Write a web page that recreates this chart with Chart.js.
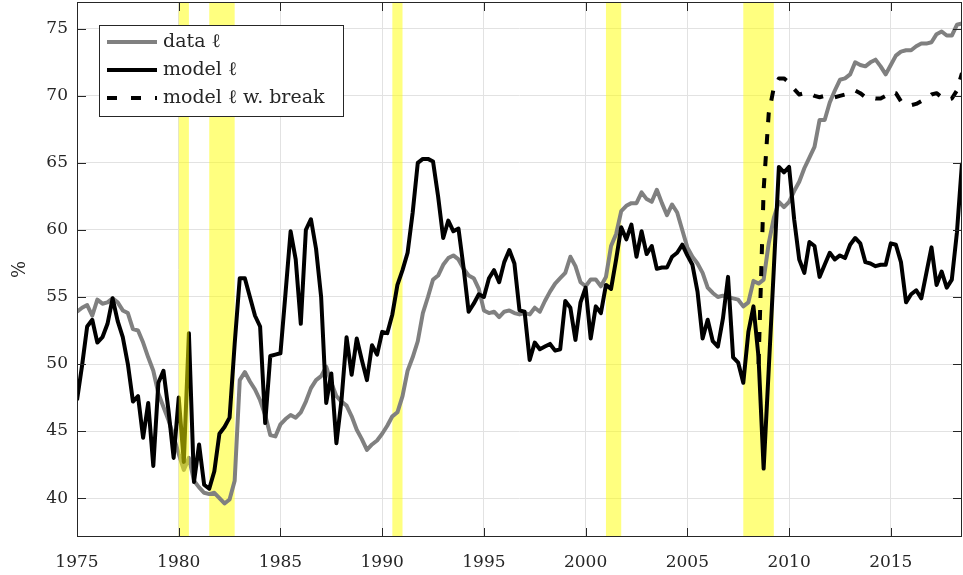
<!DOCTYPE html>
<html>
<head>
<meta charset="utf-8">
<script src="https://cdn.jsdelivr.net/npm/chart.js@4.4.1/dist/chart.umd.min.js"></script>
<style>
  html, body { margin: 0; padding: 0; background: #fff; }
  #wrap { width: 963px; height: 575px; }
</style>
</head>
<body>
<div id="wrap"><canvas id="myChart" width="963" height="575"></canvas></div>
<script>
// quarterly series, first point 1975Q1
const startYear = 1975;

const dataL = [
  53.9, 54.2, 54.4, 53.6, 54.8, 54.5, 54.6, 54.9, 54.6, 54.0,
  53.8, 52.6, 52.5, 51.6, 50.5, 49.5, 47.8, 46.8, 45.8, 44.6,
  43.3, 42.1, 43.0, 41.3, 40.8, 40.4, 40.3, 40.4, 40.0, 39.6,
  39.9, 41.3, 48.8, 49.4, 48.7, 48.1, 47.3, 46.2, 44.7, 44.6,
  45.5, 45.9, 46.2, 46.0, 46.4, 47.2, 48.2, 48.8, 49.1, 49.8,
  48.6, 47.6, 47.2, 46.9, 46.1, 45.1, 44.4, 43.6, 44.0, 44.3,
  44.8, 45.4, 46.1, 46.4, 47.6, 49.5, 50.5, 51.7, 53.8, 55.0,
  56.3, 56.6, 57.4, 57.9, 58.1, 57.8, 57.1, 56.6, 56.4, 55.6,
  54.0, 53.8, 53.9, 53.5, 53.9, 54.0, 53.8, 53.7, 53.8, 53.7,
  54.2, 53.9, 54.7, 55.4, 56.0, 56.4, 56.8, 58.0, 57.3, 56.1,
  55.8, 56.3, 56.3, 55.8, 56.5, 58.8, 59.7, 61.4, 61.8, 62.0,
  62.0, 62.8, 62.3, 62.1, 63.0, 62.0, 61.1, 61.9, 61.3, 60.0,
  58.7, 58.0, 57.5, 56.8, 55.7, 55.3, 55.0, 55.1, 55.0, 54.9,
  54.8, 54.3, 54.6, 56.2, 56.0, 56.3, 59.0, 60.9, 62.1, 61.7,
  62.1, 62.9, 63.6, 64.6, 65.4, 66.2, 68.2, 68.2, 69.5, 70.4,
  71.2, 71.3, 71.6, 72.5, 72.3, 72.2, 72.5, 72.7, 72.2, 71.6,
  72.3, 73.0, 73.3, 73.4, 73.4, 73.7, 73.9, 73.9, 74.0, 74.6,
  74.8, 74.5, 74.5, 75.3, 75.4
];

const modelL = [
  47.3, 49.9, 52.8, 53.3, 51.6, 52.0, 53.0, 54.9, 53.2, 52.0,
  50.0, 47.2, 47.6, 44.5, 47.1, 42.4, 48.6, 49.5, 46.5, 43.0,
  47.5, 42.7, 52.3, 41.2, 44.0, 41.0, 40.7, 42.0, 44.8, 45.3,
  46.0, 51.5, 56.4, 56.4, 55.0, 53.6, 52.8, 45.6, 50.6, 50.7,
  50.8, 55.3, 59.9, 57.8, 53.0, 60.0, 60.8, 58.6, 55.0, 47.1,
  49.3, 44.1, 47.3, 52.0, 49.2, 51.9, 50.3, 48.8, 51.4, 50.7,
  52.4, 52.3, 53.7, 55.9, 57.0, 58.3, 61.3, 65.0, 65.3, 65.3,
  65.1, 62.5, 59.4, 60.7, 59.9, 60.1, 57.2, 53.9, 54.5, 55.2,
  55.0, 56.4, 57.0, 56.1, 57.6, 58.5, 57.5, 54.0, 53.9, 50.3,
  51.6, 51.1, 51.3, 51.5, 51.0, 51.1, 54.7, 54.2, 51.8, 54.6,
  55.7, 51.9, 54.3, 53.8, 55.9, 55.6, 57.8, 60.2, 59.3, 60.4,
  58.0, 59.9, 58.2, 58.8, 57.1, 57.2, 57.2, 58.0, 58.3, 58.9,
  58.1, 57.4, 55.4, 51.9, 53.3, 51.7, 51.3, 53.4, 56.5, 50.5,
  50.1, 48.6, 52.4, 54.3, 50.5, 42.2, 49.6, 57.1, 64.7, 64.3,
  64.7, 60.8, 57.8, 56.8, 59.1, 58.8, 56.5, 57.4, 58.3, 57.8,
  58.1, 57.9, 58.9, 59.4, 59.0, 57.6, 57.5, 57.3, 57.4, 57.4,
  59.0, 58.9, 57.6, 54.6, 55.2, 55.5, 54.9, 56.8, 58.7, 55.9,
  56.9, 55.7, 56.3, 59.8, 65.0
];

// model with break, first point 2008Q3
const breakStart = 2008.5;
const breakL = [
  50.0, 63.0, 68.7, 70.6, 71.3, 71.3, 71.0, 70.5, 70.1, 70.2,
  70.2, 70.0, 69.9, 70.0, 70.0, 69.9, 70.0, 70.1, 70.3, 70.4,
  70.2, 69.9, 69.9, 69.8, 69.8, 70.0, 70.3, 70.2, 69.6, 69.4,
  69.3, 69.4, 69.6, 69.8, 70.1, 70.2, 69.9, 69.7, 69.8, 70.4,
  71.7
];

// NBER recessions [start, end]
const recessions = [
  [1980.0, 1980.5],
  [1981.5, 1982.75],
  [1990.5, 1991.0],
  [2001.0, 2001.75],
  [2007.75, 2009.25]
];

const xTicks = [1975, 1980, 1985, 1990, 1995, 2000, 2005, 2010, 2015];
const yTicks = [40, 45, 50, 55, 60, 65, 70, 75];

const legendNames = ["data \u2113", "model \u2113", "model \u2113 w. break"];

const toPoints = (arr, start) => arr.map((v, i) => ({ x: start + i / 4, y: v }));

const FONT = "'DejaVu Serif', 'Liberation Serif', serif";
const AXIS_COLOR = "#262626";

const drawBands = (chart, list) => {
  const { ctx, chartArea, scales } = chart;
  ctx.save();
  ctx.fillStyle = "rgba(255, 255, 0, 0.5)";
  list.forEach(([a, b]) => {
    const x0 = scales.x.getPixelForValue(a);
    const x1 = scales.x.getPixelForValue(b);
    ctx.fillRect(x0, chartArea.top, x1 - x0, chartArea.bottom - chartArea.top);
  });
  ctx.restore();
};

const bandsPlugin = {
  id: "bands",
  beforeDatasetsDraw(chart) {
    drawBands(chart, recessions.slice(1));
  },
  // the 1980 band sits over the lines in the original
  afterDatasetsDraw(chart) {
    drawBands(chart, recessions.slice(0, 1));
  },
};

const frameLegendPlugin = {
  id: "frameLegend",
  afterDraw(chart) {
    const { ctx, chartArea: ca, scales } = chart;
    const tl = 9;
    ctx.save();
    ctx.strokeStyle = AXIS_COLOR;
    ctx.lineWidth = 1;
    ctx.strokeRect(ca.left + 0.5, ca.top + 0.5, ca.right - ca.left - 1, ca.bottom - ca.top - 1);
    ctx.beginPath();
    xTicks.forEach((t) => {
      const x = Math.round(scales.x.getPixelForValue(t)) + 0.5;
      ctx.moveTo(x, ca.bottom); ctx.lineTo(x, ca.bottom - tl);
      ctx.moveTo(x, ca.top); ctx.lineTo(x, ca.top + tl);
    });
    yTicks.forEach((t) => {
      const y = Math.round(scales.y.getPixelForValue(t)) + 0.5;
      ctx.moveTo(ca.left, y); ctx.lineTo(ca.left + tl, y);
      ctx.moveTo(ca.right, y); ctx.lineTo(ca.right - tl, y);
    });
    ctx.stroke();

    // legend box
    const bx = 99, by = 25, bw = 244, bh = 91;
    ctx.fillStyle = "#fff";
    ctx.fillRect(bx, by, bw, bh);
    ctx.strokeRect(bx + 0.5, by + 0.5, bw, bh);
    const styles = [
      { color: "#808080", dash: [] },
      { color: "#000000", dash: [] },
      { color: "#000000", dash: [10, 14] },
    ];
    ctx.font = "19px " + FONT;
    ctx.textBaseline = "middle";
    legendNames.forEach((name, i) => {
      const y = by + 17 + i * 28;
      ctx.beginPath();
      ctx.setLineDash(styles[i].dash);
      ctx.lineWidth = 4;
      ctx.strokeStyle = styles[i].color;
      ctx.moveTo(107, y);
      ctx.lineTo(157, y);
      ctx.stroke();
      ctx.setLineDash([]);
      ctx.fillStyle = AXIS_COLOR;
      ctx.fillText(name, 163, y);
    });
    ctx.restore();
  },
};

const data = {
  datasets: [
    {
      label: legendNames[0],
      data: toPoints(dataL, startYear),
      borderColor: "#808080",
      borderWidth: 4,
      order: 3,
    },
    {
      label: legendNames[1],
      data: toPoints(modelL, startYear),
      borderColor: "#000000",
      borderWidth: 4,
      order: 2,
    },
    {
      label: legendNames[2],
      data: toPoints(breakL, breakStart),
      borderColor: "#000000",
      borderWidth: 4,
      borderDash: [10, 12],
      order: 1,
    },
  ],
};

const config = {
  type: "line",
  data: data,
  options: {
    responsive: false,
    animation: false,
    layout: { padding: { top: 2, right: 1, left: 0, bottom: 0 } },
    elements: {
      point: { radius: 0 },
      line: { tension: 0, borderJoinStyle: "round", fill: false },
    },
    plugins: {
      legend: { display: false },
      tooltip: { enabled: false },
    },
    scales: {
      x: {
        type: "linear",
        min: 1975,
        max: 2018.5,
        afterBuildTicks: (axis) => {
          axis.ticks = xTicks.map((v) => ({ value: v }));
        },
        afterFit: (axis) => {
          axis.height = 38;
          axis.paddingLeft = 0;
          axis.paddingRight = 0;
        },
        grid: { color: "#e2e2e2", drawTicks: false },
        border: { display: false },
        ticks: {
          padding: 15,
          color: AXIS_COLOR,
          font: { family: FONT, size: 17 },
          maxRotation: 0,
          callback: (v) => String(v),
        },
      },
      y: {
        min: 37.1,
        max: 77,
        afterBuildTicks: (axis) => {
          axis.ticks = yTicks.map((v) => ({ value: v }));
        },
        afterFit: (axis) => {
          axis.width = 77;
          axis.paddingTop = 0;
          axis.paddingBottom = 0;
        },
        grid: { color: "#e2e2e2", drawTicks: false },
        border: { display: false },
        title: {
          display: true,
          text: "%",
          color: AXIS_COLOR,
          font: { family: FONT, size: 18 },
          padding: { top: 10, bottom: 0 },
        },
        ticks: {
          padding: 9,
          color: AXIS_COLOR,
          font: { family: FONT, size: 17 },
        },
      },
    },
  },
  plugins: [bandsPlugin, frameLegendPlugin],
};

let myChart = new Chart(document.getElementById("myChart"), config);
</script>
</body>
</html>
